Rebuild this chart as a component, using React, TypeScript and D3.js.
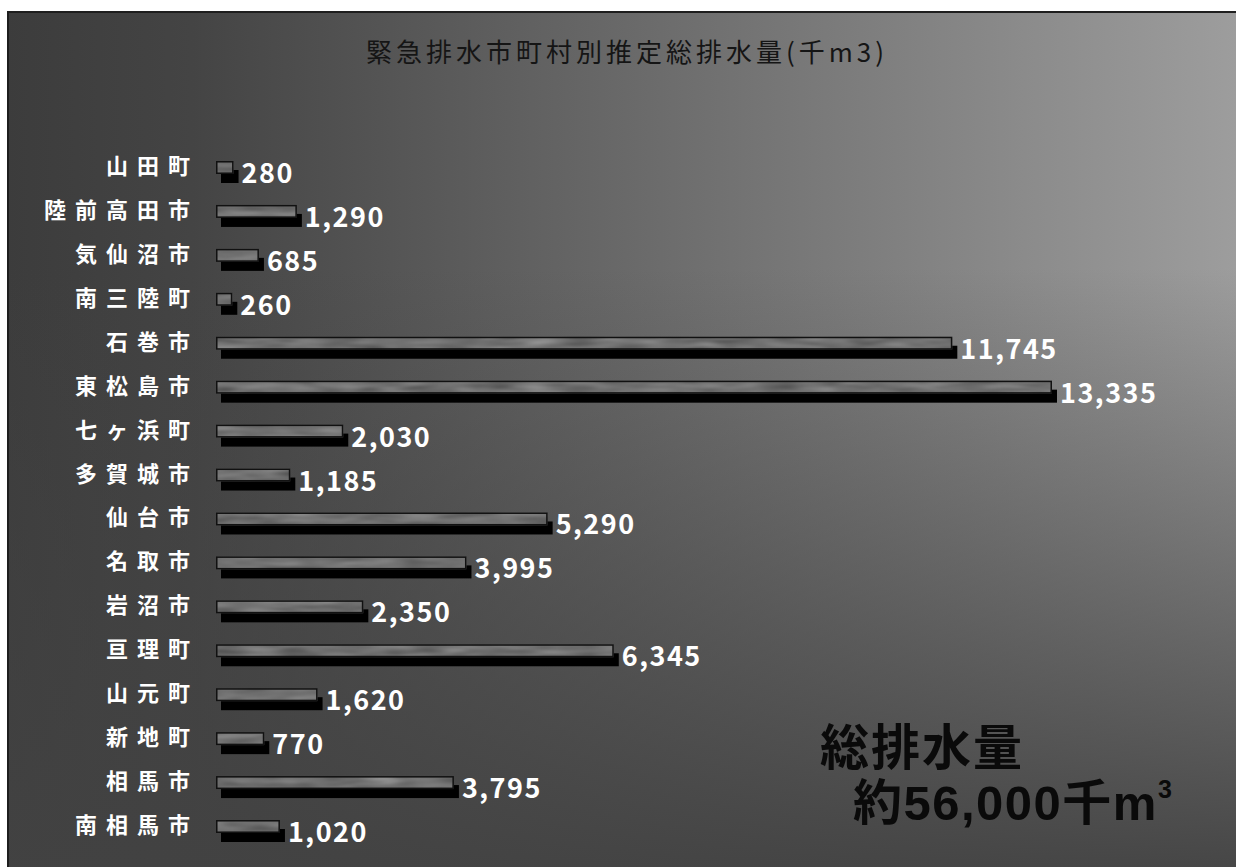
import React from "react";
import * as d3 from "d3";

const W = 1236;
const H = 867;

const categories: string[] = [
  "山田町", "陸前高田市", "気仙沼市", "南三陸町", "石巻市", "東松島市",
  "七ヶ浜町", "多賀城市", "仙台市", "名取市", "岩沼市", "亘理町",
  "山元町", "新地町", "相馬市", "南相馬市",
];
const values: number[] = [
  280, 1290, 685, 260, 11745, 13335, 2030, 1185, 5290, 3995, 2350, 6345,
  1620, 770, 3795, 1020,
];
const title = "緊急排水市町村別推定総排水量(千m3)";
const totalLine1 = "総排水量";
const totalLine2 = "約56,000千m";

export default function App() {
  const x = d3.scaleLinear().domain([0, 13335]).range([216, 1052]);
  const y = d3.scalePoint<string>().domain(categories).range([165, 824]);
  const fmt = d3.format(",");

  const frameX = 7;
  const frameY = 11;

  return (
    <svg
      width={W}
      height={H}
      style={{ position: "absolute", left: 0, top: 0, background: "#fff" }}
    >
      <defs>
        <linearGradient id="bgH" x1="0" y1="0" x2="1" y2="0">
          <stop offset="0" stopColor="#3c3c3c" />
          <stop offset="0.15" stopColor="#444" />
          <stop offset="1" stopColor="#9d9d9d" />
        </linearGradient>
        <linearGradient id="bgV" x1="0" y1="0" x2="0" y2="1">
          <stop offset="0" stopColor="#424242" stopOpacity="0" />
          <stop offset="0.3" stopColor="#424242" stopOpacity="0" />
          <stop offset="1" stopColor="#424242" stopOpacity="0.95" />
        </linearGradient>
        <filter
          id="barTex"
          x="0"
          y="0"
          width="1"
          height="1"
          colorInterpolationFilters="sRGB"
        >
          <feTurbulence
            type="fractalNoise"
            baseFrequency="0.025 0.18"
            numOctaves="2"
            seed="7"
            result="noise"
          />
          <feColorMatrix
            in="noise"
            type="matrix"
            values="0.33 0.33 0.33 0 0  0.33 0.33 0.33 0 0  0.33 0.33 0.33 0 0  0 0 0 0 1"
            result="gray"
          />
          <feComponentTransfer in="gray" result="toned">
            <feFuncR type="linear" slope="0.55" intercept="0.17" />
            <feFuncG type="linear" slope="0.55" intercept="0.17" />
            <feFuncB type="linear" slope="0.55" intercept="0.17" />
          </feComponentTransfer>
          <feGaussianBlur in="toned" stdDeviation="1" result="soft" />
          <feComposite in="soft" in2="SourceGraphic" operator="in" />
        </filter>
      </defs>

      {/* panel */}
      <rect x={frameX} y={frameY} width={W - frameX} height={H - frameY} fill="url(#bgH)" />
      <rect x={frameX} y={frameY} width={W - frameX} height={H - frameY} fill="url(#bgV)" />
      <line x1={frameX + 1} y1={frameY} x2={frameX + 1} y2={H} stroke="#1e1e1e" strokeWidth={2} />
      <line x1={frameX} y1={frameY + 1} x2={W} y2={frameY + 1} stroke="#1e1e1e" strokeWidth={2} />

      {/* title */}
      <text
        x={627}
        y={62}
        textAnchor="middle"
        fontFamily="'Noto Sans CJK JP', sans-serif"
        fontSize={26}
        letterSpacing={4}
        fill="#151515"
      >
        {title}
      </text>

      {/* bars */}
      {categories.map((c, i) => {
        const cy = y(c) as number;
        const x0 = x(0);
        const x1 = x(values[i]);
        const w = x1 - x0;
        return (
          <g key={c}>
            <rect x={x0 + 5} y={cy + 5} width={w} height={13} fill="#000" />
            <rect
              x={x0}
              y={cy - 4}
              width={w}
              height={13}
              fill="#777"
              filter="url(#barTex)"
            />
            <rect
              x={x0 + 0.75}
              y={cy - 3.25}
              width={Math.max(w - 1.5, 0)}
              height={11.5}
              fill="none"
              stroke="#111"
              strokeWidth={1.5}
            />
            <text
              x={x1 + 8}
              y={cy + 18}
              fontFamily="'Noto Sans CJK JP', sans-serif"
              fontWeight={700}
              fontSize={27}
              letterSpacing={1.5}
              fill="#fff"
            >
              {fmt(values[i])}
            </text>
            <text
              x={199}
              y={cy + 9}
              textAnchor="end"
              fontFamily="'Noto Sans CJK JP', sans-serif"
              fontWeight={700}
              fontSize={22}
              letterSpacing={9}
              fill="#fff"
            >
              {c}
            </text>
          </g>
        );
      })}

      {/* total annotation */}
      <text
        x={820}
        y={765}
        fontFamily="'Liberation Sans', 'Noto Sans CJK JP', sans-serif"
        fontWeight={700}
        fontSize={49}
        letterSpacing={2}
        fill="#0a0a0a"
      >
        {totalLine1}
      </text>
      <text
        x={853}
        y={820}
        fontFamily="'Liberation Sans', 'Noto Sans CJK JP', sans-serif"
        fontWeight={700}
        fontSize={49}
        letterSpacing={1.5}
        fill="#0a0a0a"
      >
        {totalLine2}
        <tspan fontSize={25} dy={-22}>3</tspan>
      </text>
    </svg>
  );
}
